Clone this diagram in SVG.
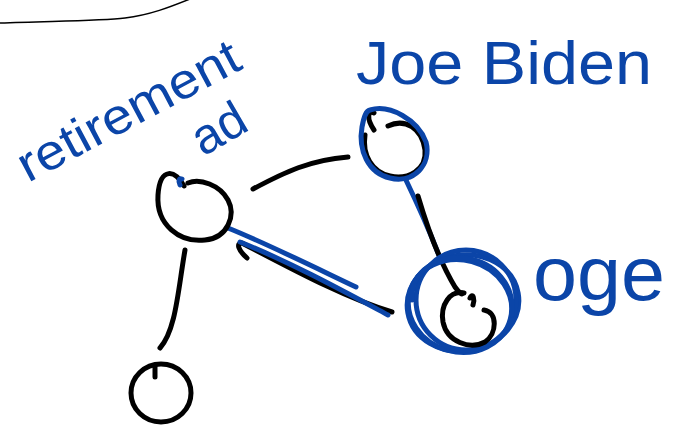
<svg xmlns="http://www.w3.org/2000/svg" width="677" height="433" viewBox="0 0 677 433">
<style>
.k{fill:none;stroke:#000;stroke-width:5;stroke-linecap:round;stroke-linejoin:round}
.b{fill:none;stroke:#0b45a8;stroke-width:5;stroke-linecap:round;stroke-linejoin:round}
.t{fill:#0b45a8;font-family:"Liberation Sans",Arial,sans-serif}
</style>
<rect width="677" height="433" fill="#fff"/>
<path d="M0,23 C50,21 100,21 125,18 C150,15 170,7 190,-1" fill="none" stroke="#000" stroke-width="1.5"/>
<g id="connectors">
<path class="k" d="M253,189 C285,172 310,160 348,157"/>
<path class="k" d="M185,250 C178,290 176,330 160,348"/>
<path class="b" d="M228,228 C270,245 320,270 356,287" stroke-width="6"/>
<path class="k" d="M247,258 C238,250 236,243 242,243 C290,268 345,298 392,312"/>
<path class="b" d="M240,242 C290,262 345,292 388,315"/>
<path class="b" d="M405,178 C418,205 430,232 440,258" stroke-width="7"/>
<path class="k" d="M418,196 C428,230 440,262 455,287 C460,294 463,295 462,293"/>
</g>
<g id="node-retirement-ad">
<path class="k" d="M184,186 C176,170 160,166 158,195 C156,225 180,243 205,240 C228,238 236,215 228,200 C220,185 200,178 188,183"/>
<path class="b" d="M180,185 C178,181 179,178 182,179" stroke-width="3"/>
<text class="t" font-size="50" transform="translate(28,183) rotate(-28)" textLength="245" lengthAdjust="spacingAndGlyphs">retirement</text>
<text class="t" font-size="50" transform="translate(203,157) rotate(-30)">ad</text>
</g>
<g id="node-joe-biden">
<path class="k" d="M374,130 C366,118 368,110 374,113 M388,126 C405,118 422,128 425,150 C427,170 408,180 390,176 C372,172 362,155 365,135"/>
<path class="b" d="M370,110 C390,104 418,120 426,142 C432,165 413,184 390,178 C368,173 358,150 362,127 C364,116 366,111 370,110 Z" stroke-width="4"/>
<text class="t" font-size="62" x="356" y="84" textLength="296" lengthAdjust="spacingAndGlyphs">Joe Biden</text>
</g>
<g id="node-bottom">
<ellipse class="k" cx="161" cy="393" rx="30" ry="29"/>
<path class="k" d="M155,366 L155,377"/>
</g>
<g id="node-doge">
<ellipse class="b" cx="463" cy="303" rx="56" ry="48" transform="rotate(-10 463 303)"/>
<ellipse class="b" cx="460" cy="306" rx="52" ry="46" transform="rotate(15 460 306)"/>
<ellipse class="b" cx="466" cy="300" rx="50" ry="50"/>
<path class="b" d="M412,300 C410,270 440,255 465,258 C495,262 515,285 512,315" stroke-width="4"/>
<path class="k" d="M464,293 C450,290 440,305 443,322 C447,342 470,350 485,342 C497,334 498,312 484,310"/>
<path class="k" d="M470,298 C473,292 475,300 473,305" stroke-width="3"/>
<text class="t" font-size="76" x="533" y="300" textLength="132" lengthAdjust="spacingAndGlyphs">oge</text>
</g>
</svg>
